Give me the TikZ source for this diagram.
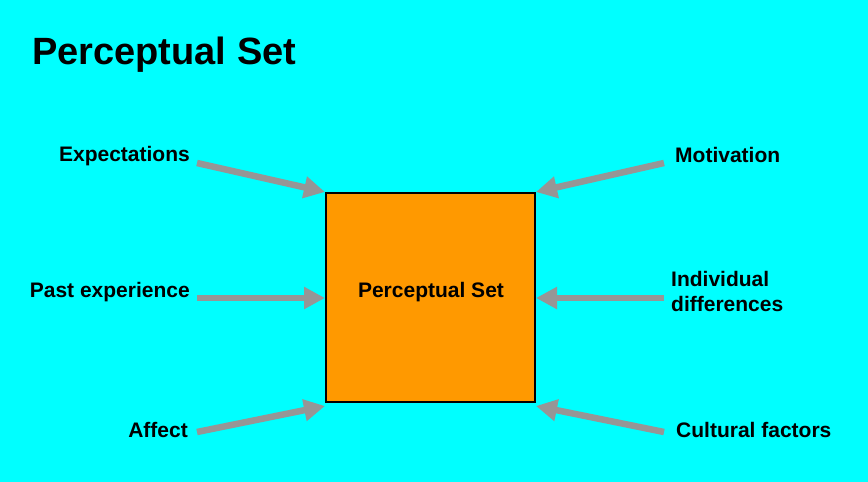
\documentclass[tikz,border=0pt]{standalone}
\usepackage{fontspec}
\setmainfont{Liberation Sans}
\usetikzlibrary{arrows.meta}
\definecolor{bg}{HTML}{00FFFF}
\definecolor{boxor}{HTML}{FF9900}
\definecolor{arrg}{HTML}{969696}
\tikzset{
  lbl/.style={font=\bfseries\fontsize{21}{25}\selectfont, inner sep=0pt},
  arr/.style={draw=arrg, line width=6.5pt, -{Triangle[length=21pt,width=21pt]}},
}
\begin{document}
\begin{tikzpicture}[x=1pt,y=-1pt]
\fill[bg] (0,0) rectangle (868,482);
\useasboundingbox (0,0) rectangle (868,482);
\node[anchor=base west, inner sep=0pt, font=\bfseries\fontsize{38}{42}\selectfont] (title) at (32,64) {Perceptual Set};
\node[draw=black, line width=2pt, fill=boxor, minimum width=209pt, minimum height=209pt, inner sep=0pt] (box) at (430.5,297.5) {};
\node[lbl] (center) at (431,292.5) {Perceptual Set};
\node[lbl, anchor=east] (exp) at (190,156) {Expectations};
\node[lbl, anchor=east] (past) at (190,292.5) {Past experience};
\node[lbl, anchor=east] (aff) at (188,430) {Affect};
\node[lbl, anchor=west] (mot) at (675,155) {Motivation};
\node[lbl, anchor=west, align=left] (ind) at (671,291) {Individual\\differences};
\node[lbl, anchor=west] (cul) at (676,430) {Cultural factors};
\coordinate (e1) at (197,163);
\coordinate (p1) at (197,298);
\coordinate (a1) at (197,432);
\coordinate (m1) at (664,163);
\coordinate (i1) at (664,298);
\coordinate (c1) at (664,432);
\draw[arr] (e1) -- (box.north west);
\draw[arr] (p1) -- (box.west |- p1);
\draw[arr] (a1) -- ([yshift=-3pt]box.south west);
\draw[arr] (m1) -- (box.north east);
\draw[arr] (i1) -- (box.east |- i1);
\draw[arr] (c1) -- ([yshift=-3pt]box.south east);
\end{tikzpicture}
\end{document}
